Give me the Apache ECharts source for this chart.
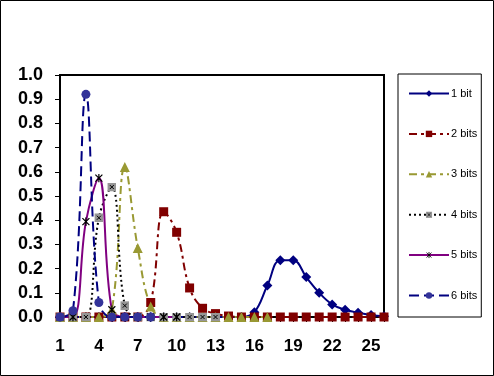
<!DOCTYPE html>
<html>
<head>
<meta charset="utf-8">
<script src="https://cdn.jsdelivr.net/npm/echarts@6/dist/echarts.min.js"></script>
<style>
html, body { margin: 0; padding: 0; background: #fff; }
#main { width: 494px; height: 376px; }
</style>
</head>
<body>
<div id="main"></div>
<script>
var categories = ['1','2','3','4','5','6','7','8','9','10','11','12','13','14','15','16','17','18','19','20','21','22','23','24','25','26'];
var seriesNames = ['1 bit', '2 bits', '3 bits', '4 bits', '5 bits', '6 bits'];

var oneBit = [0,0,0,0,0,0,0,0,0,0,0,0,0,0,0,0.02,0.13,0.235,0.235,0.165,0.1,0.052,0.03,0.018,0.008,0.003];
var twoBits = [0,0,0,0,0,0,0,0.06,0.435,0.35,0.12,0.036,0.014,0.004,0,0,0,0,0,0,0,0,0,0,0,0];
var threeBits = [0,0,0,0,0.03,0.62,0.285,0.043,0,0,0,0,0,0,0,0,0];
var fourBits = [0,0,0,0.41,0.537,0.047,0,0,0,0,0,0,0];
var fiveBits = [0,0,0.394,0.574,0.03,0,0,0,0,0];
var sixBits = [0,0.026,0.92,0.06,0,0,0,0];

var yTicks = [0,0.1,0.2,0.3,0.4,0.5,0.6,0.7,0.8,0.9,1.0];

// marker pictures
function svgSymbol(svg) {
	return 'image://data:image/svg+xml;charset=utf-8,' + encodeURIComponent(svg);
}
var crossBox = svgSymbol("<svg xmlns='http://www.w3.org/2000/svg' width='9' height='9'>"
	+ "<rect width='9' height='9' fill='#969696'/>"
	+ "<path d='M2.5 2.5L6.5 6.5M6.5 2.5L2.5 6.5' stroke='#000' stroke-width='1'/></svg>");
var starMark = svgSymbol("<svg xmlns='http://www.w3.org/2000/svg' width='9' height='9'>"
	+ "<path d='M4.5 0V9M1 1L8 8M8 1L1 8' stroke='#000' stroke-width='1.2'/></svg>");

var font = 'Arial, "Liberation Sans", sans-serif';

function makeSeries(name, data, color, lineType, symbol, symbolColor, size) {
	return {
		name : name,
		type : 'line',
		data : data,
		smooth : 0.4,
		symbol : symbol,
		symbolSize : size,
		showAllSymbol : true,
		lineStyle : { color : color, width : 2, type : lineType },
		itemStyle : { color : symbolColor, borderWidth : 0 },
		emphasis : { disabled : true },
		animation : false
	};
}

var chart = echarts.init(document.getElementById('main'));

var option = {
	animation : false,
	backgroundColor : '#fff',
	graphic : [{
		type : 'rect',
		shape : { x : 0.5, y : 0.5, width : 493, height : 375 },
		style : { fill : 'none', stroke : '#000', lineWidth : 1 },
		silent : true
	}],
	grid : {
		left : 60, top : 75, right : 110, bottom : 59,
		show : true, borderColor : '#000', borderWidth : 2,
		backgroundColor : 'transparent'
	},
	legend : {
		orient : 'vertical',
		left : 398, top : 74,
		padding : [14, 4, 16, 10],
		itemWidth : 40, itemHeight : 8, itemGap : 29.4,
		borderColor : '#000', borderWidth : 1,
		textStyle : { fontFamily : font, fontSize : 11, color : '#000', padding : [0, 0, 0, -3] },
		data : seriesNames
	},
	xAxis : {
		type : 'category',
		data : categories,
		boundaryGap : false,
		axisLine : { lineStyle : { color : '#000', width : 2 } },
		axisTick : { show : true, interval : 0, length : 5, lineStyle : { color : '#000' } },
		axisLabel : { interval : 2, margin : 21, color : '#000', fontFamily : font, fontWeight : 'bold', fontSize : 17 },
		splitLine : { show : false }
	},
	yAxis : {
		type : 'value',
		min : yTicks[0], max : yTicks[yTicks.length - 1], interval : 0.1,
		axisLine : { show : true, lineStyle : { color : '#000', width : 2 } },
		axisTick : { show : true, length : 5, lineStyle : { color : '#000' } },
		axisLabel : {
			margin : 17, color : '#000', fontFamily : font, fontWeight : 'bold', fontSize : 18,
			formatter : function(v) { return v.toFixed(1); }
		},
		splitLine : { show : false }
	},
	series : [
		makeSeries(seriesNames[0], oneBit, '#000080', 'solid', 'diamond', '#000080', 10),
		makeSeries(seriesNames[1], twoBits, '#800000', [8, 4, 3, 4], 'rect', '#800000', 9),
		makeSeries(seriesNames[2], threeBits, '#999933', [8, 4, 3, 4], 'triangle', '#999933', 10),
		makeSeries(seriesNames[3], fourBits, '#000000', [2, 3], crossBox, '#969696', 9),
		makeSeries(seriesNames[4], fiveBits, '#800080', 'solid', starMark, '#000000', 9),
		makeSeries(seriesNames[5], sixBits, '#000080', [10, 5], 'circle', '#333399', 9)
	]
};

chart.setOption(option);
</script>
</body>
</html>
